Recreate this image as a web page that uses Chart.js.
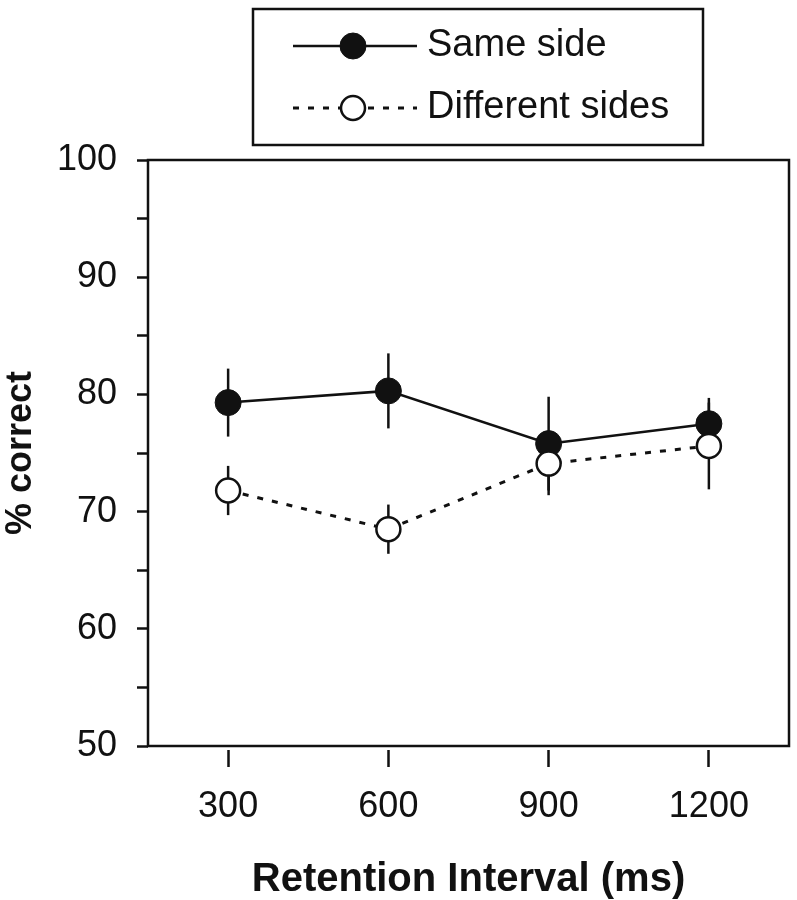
<!DOCTYPE html>
<html>
<head>
<meta charset="utf-8">
<title>Retention interval</title>
<script src="https://cdn.jsdelivr.net/npm/chart.js@4.4.1/dist/chart.umd.min.js"></script>
<style>
   html, body { margin: 0; padding: 0; background: #fff; }
   #chart { display: block; }
</style>
</head>
<body>
<canvas id="chart" width="797" height="900"></canvas>
<script>
/* global Chart */

// values
const intervals = [300, 600, 900, 1200];
const sameSide = [79.3, 80.3, 75.8, 77.5];
const sameSideErr = [2.9, 3.2, 4.0, 2.2];
const differentSides = [71.8, 68.5, 74.1, 75.6];
const differentSidesErr = [2.1, 2.1, 2.7, 3.7];
const yTicks = [50, 60, 70, 80, 90, 100];

const FONT = "'Liberation Sans', Arial, Helvetica, sans-serif";
const INK = "#111";

/**
 * vertical error bars, drawn under the markers
 */
const errorBarPlugin = {
   id: "errorBars",
   beforeDatasetsDraw(chart) {
      const ctx = chart.ctx;
      const x = chart.scales.x;
      const y = chart.scales.y;
      ctx.save();
      ctx.strokeStyle = INK;
      ctx.lineWidth = 2.5;
      chart.data.datasets.forEach((ds) => {
         ds.data.forEach((p, i) => {
            const err = ds.errors[i];
            const px = x.getPixelForValue(p.x);
            ctx.beginPath();
            ctx.moveTo(px, y.getPixelForValue(p.y + err));
            ctx.lineTo(px, y.getPixelForValue(p.y - err));
            ctx.stroke();
         });
      });
      ctx.restore();
   },
};

/**
 * box round the plot area plus the boxed legend above it
 */
const framePlugin = {
   id: "frame",
   afterDraw(chart) {
      const ctx = chart.ctx;
      const a = chart.chartArea;
      ctx.save();
      ctx.strokeStyle = INK;
      ctx.lineWidth = 2.5;
      ctx.strokeRect(a.left, a.top, a.right - a.left, a.bottom - a.top);

      // legend
      ctx.strokeRect(253, 9, 450, 136);
      const rows = [
         { ds: chart.data.datasets[1], y: 46 },
         { ds: chart.data.datasets[0], y: 108 },
      ];
      rows.forEach((row) => {
         const ds = row.ds;
         ctx.setLineDash(ds.borderDash || []);
         ctx.lineWidth = ds.borderWidth;
         ctx.beginPath();
         ctx.moveTo(293, row.y);
         ctx.lineTo(417, row.y);
         ctx.stroke();
         ctx.setLineDash([]);
         ctx.beginPath();
         ctx.arc(353, row.y, ds.pointRadius, 0, Math.PI * 2);
         ctx.fillStyle = ds.pointBackgroundColor;
         ctx.fill();
         ctx.lineWidth = ds.pointBorderWidth;
         ctx.stroke();
         ctx.fillStyle = INK;
         ctx.font = "38px " + FONT;
         ctx.textBaseline = "middle";
         ctx.fillText(ds.label, 427, row.y);
      });
      ctx.restore();
   },
};

const toPoints = (values) => values.map((v, i) => ({ x: intervals[i], y: v }));

const chart = new Chart(document.getElementById("chart"), {
   type: "line",
   data: {
      datasets: [
         {
            label: "Different sides",
            data: toPoints(differentSides),
            errors: differentSidesErr,
            order: 1,
            borderColor: INK,
            borderWidth: 3,
            borderDash: [6, 9],
            pointRadius: 12,
            pointBackgroundColor: "#fff",
            pointBorderColor: INK,
            pointBorderWidth: 2.5,
         },
         {
            label: "Same side",
            data: toPoints(sameSide),
            errors: sameSideErr,
            order: 2,
            borderColor: INK,
            borderWidth: 2.5,
            pointRadius: 13,
            pointBackgroundColor: INK,
            pointBorderColor: INK,
            pointBorderWidth: 1,
         },
      ],
   },
   options: {
      responsive: false,
      animation: false,
      devicePixelRatio: 1,
      layout: {
         autoPadding: false,
         padding: { top: 160, right: 8, left: 0, bottom: 0 },
      },
      plugins: {
         legend: { display: false },
         tooltip: { enabled: false },
      },
      scales: {
         x: {
            type: "linear",
            min: 150,
            max: 1350,
            afterFit(scale) {
               scale.height = 154;
               scale.paddingLeft = 0;
               scale.paddingRight = 0;
            },
            afterBuildTicks(scale) {
               scale.ticks = intervals.map((v) => ({ value: v }));
            },
            border: { display: false },
            grid: {
               drawOnChartArea: false,
               color: INK,
               tickLength: 21,
               tickWidth: 2.5,
               tickBorderDash: [0, 4, 17, 100],
            },
            ticks: {
               color: INK,
               padding: 18,
               font: { family: FONT, size: 36 },
               callback: (v) => String(v),
            },
            title: {
               display: true,
               text: "Retention Interval (ms)",
               color: INK,
               padding: 0,
               font: { family: FONT, size: 40, weight: "bold", lineHeight: 1 },
            },
         },
         y: {
            min: 50,
            max: 100,
            afterFit(scale) {
               scale.width = 148;
               scale.paddingTop = 0;
               scale.paddingBottom = 0;
            },
            border: { display: false },
            grid: {
               drawOnChartArea: false,
               color: INK,
               tickLength: 11,
               tickWidth: 2.5,
            },
            ticks: {
               stepSize: 5,
               color: INK,
               padding: 20,
               font: { family: FONT, size: 36 },
               callback: (v) => (yTicks.includes(v) ? String(v) : ""),
            },
            title: {
               display: true,
               text: "% correct",
               color: INK,
               padding: { top: 3, bottom: 0 },
               font: { family: FONT, size: 36, weight: "bold", lineHeight: 1 },
            },
         },
      },
   },
   plugins: [errorBarPlugin, framePlugin],
});
</script>
</body>
</html>
